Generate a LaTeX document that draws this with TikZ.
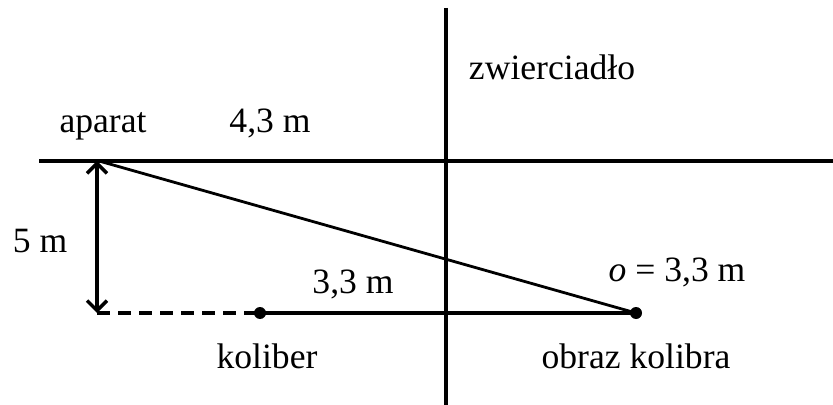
\documentclass[tikz,border=0pt]{standalone}
\usepackage{fontspec}
\setmainfont{Liberation Serif}
\usetikzlibrary{arrows.meta}
\begin{document}
\begin{tikzpicture}[x=0.5pt,y=-0.5pt,
  lbl/.style={inner sep=0pt,anchor=base,font=\fontsize{17.8}{20}\selectfont},
  dotpt/.style={circle,fill=black,inner sep=0pt,minimum size=6pt},
  thickline/.style={line width=2.1pt},
  mainline/.style={line width=1.7pt},
  thinline/.style={line width=1.4pt}]
\useasboundingbox (0,0) rectangle (833,405);
% coordinates
\coordinate (hl) at (39,161);
\coordinate (hr) at (833,161);
\coordinate (mt) at (446,8);
\coordinate (mb) at (446,405);
\coordinate (cam) at (99,161);
\coordinate (foot) at (97,313);
\coordinate (atop) at (97,161);
\node[dotpt] (kol) at (260,313) {};
\node[dotpt] (img) at (636,313) {};
% lines
\draw[mainline] (hl) -- (hr);
\draw[mainline] (mt) -- (mb);
\draw[thinline] (cam) -- (img.center);
\draw[mainline,{Straight Barb[length=5pt,width=10pt]}-{Straight Barb[length=5pt,width=10pt]}] (atop) -- (foot);
\draw[mainline,dash pattern=on 6.5pt off 4pt] (foot) -- (kol.center);
\draw[thickline] (kol.center) -- (img.center);
% labels
\node[lbl] (tap) at (103,133) {aparat};
\node[lbl] (t43) at (270,133) {4,3 m};
\node[lbl] (tzw) at (552,80) {zwierciadło};
\node[lbl] (t5) at (40,253) {5 m};
\node[lbl] (t33) at (353,293) {3,3 m};
\node[lbl] (to) at (677,281) {\textit{o} = 3,3 m};
\node[lbl] (tkol) at (267,368) {koliber};
\node[lbl] (tobr) at (636,368) {obraz kolibra};
\end{tikzpicture}
\end{document}
